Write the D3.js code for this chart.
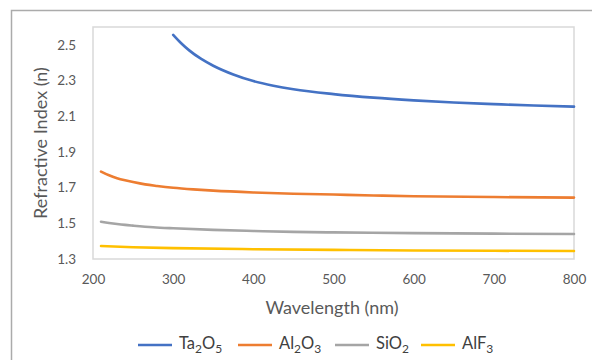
<!DOCTYPE html>
<html><head><meta charset="utf-8">
<script src="https://cdn.jsdelivr.net/npm/d3@7"></script>
<style>body{margin:0;background:#fff;}svg{display:block;}</style>
</head><body>
<svg id="c" width="592" height="360"></svg>
<script>
const xTicks = [200,300,400,500,600,700,800];
const yTicks = [1.3,1.5,1.7,1.9,2.1,2.3,2.5];
const ta2o5_x = [300,310,320,335,350,375,400,425,450,500,550,600,650,700,750,800];
const ta2o5_y = [2.556,2.509,2.469,2.421,2.383,2.334,2.297,2.271,2.251,2.224,2.204,2.189,2.177,2.168,2.160,2.154];
const al2o3_x = [210,220,230,240,250,265,280,300,325,350,400,450,500,550,600,700,800];
const al2o3_y = [1.790,1.769,1.753,1.741,1.731,1.718,1.709,1.699,1.690,1.683,1.673,1.666,1.661,1.656,1.652,1.647,1.644];
const sio2_x = [210,220,230,240,250,275,300,350,400,450,500,600,700,800];
const sio2_y = [1.509,1.502,1.496,1.491,1.487,1.478,1.472,1.463,1.457,1.452,1.449,1.445,1.442,1.440];
const alf3_x = [210,250,300,400,500,600,700,800];
const alf3_y = [1.373,1.366,1.361,1.355,1.351,1.348,1.346,1.345];
const names = [["Ta","2","O","5"],["Al","2","O","3"],["SiO","2"],["AlF","3"]];
const colors = ["#4472C4","#ED7D31","#A5A5A5","#FFC000"];

const svg = d3.select("#c");
const font = "Lato, 'Open Sans', sans-serif";
svg.append("rect").attr("x",11.5).attr("y",10.5).attr("width",700).attr("height",500)
  .attr("fill","#fff").attr("stroke","#ababab").attr("stroke-width",1.5);

const L=93, R=574, T=27, B=259;
const x = d3.scaleLinear().domain([200,800]).range([L,R]);
const y = d3.scaleLinear().domain([1.3,2.6]).range([B,T]);

svg.append("rect").attr("x",L).attr("y",T).attr("width",R-L).attr("height",B-T)
  .attr("fill","none").attr("stroke","#d9d9d9").attr("stroke-width",1.5);

const xAxis = svg.append("g").attr("transform",`translate(0,${B})`)
  .call(d3.axisBottom(x).tickValues(xTicks).tickSize(0).tickPadding(15).tickFormat(d3.format("d")));
const yAxis = svg.append("g").attr("transform",`translate(${L},0)`)
  .call(d3.axisLeft(y).tickValues(yTicks).tickSize(0).tickPadding(17).tickFormat(d3.format(".1f")));
[xAxis,yAxis].forEach(a=>{
  a.select(".domain").remove();
  a.selectAll("text").attr("fill","#595959").style("font-family",font).style("font-size","13.5px");
});

const series = [[ta2o5_x,ta2o5_y],[al2o3_x,al2o3_y],[sio2_x,sio2_y],[alf3_x,alf3_y]];
const line = d3.line().x(d=>x(d[0])).y(d=>y(d[1])).curve(d3.curveMonotoneX);
series.forEach((s,i)=>{
  const pts = s[0].map((v,j)=>[v,s[1][j]]);
  svg.append("path").datum(pts).attr("d",line).attr("fill","none")
    .attr("stroke",colors[i]).attr("stroke-width",2.6).attr("stroke-linecap","round");
});

svg.append("text").attr("x",332).attr("y",314).attr("text-anchor","middle")
  .attr("fill","#595959").style("font-family",font).style("font-size","18px").text("Wavelength (nm)");
svg.append("text").attr("transform",`translate(47,${(T+B)/2}) rotate(-90)`).attr("text-anchor","middle")
  .attr("fill","#595959").style("font-family",font).style("font-size","18px").text("Refractive Index (n)");

const legX = [138,238,335,421];
names.forEach((parts,i)=>{
  svg.append("line").attr("x1",legX[i]).attr("x2",legX[i]+34).attr("y1",345).attr("y2",345)
    .attr("stroke",colors[i]).attr("stroke-width",2.6);
  const t = svg.append("text").attr("x",legX[i]+41).attr("y",349)
    .attr("fill","#404040").style("font-family",font).style("font-size","16.5px");
  let sub=false;
  parts.forEach(p=>{
    const s = /^[0-9]$/.test(p);
    const ts = t.append("tspan").text(p);
    if(s){ ts.attr("dy",sub?0:4).style("font-size","12px"); sub=true; }
    else { ts.attr("dy",sub?-4:0); sub=false; }
  });
});
</script>
</body></html>
